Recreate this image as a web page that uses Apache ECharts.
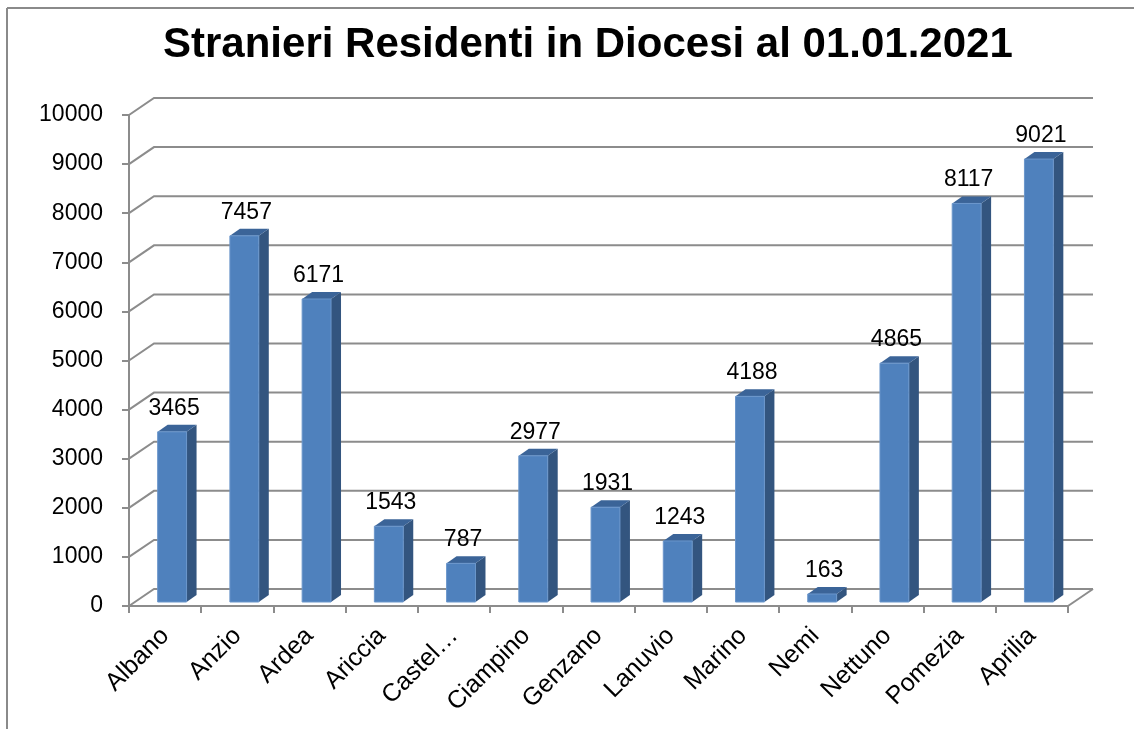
<!DOCTYPE html>
<html>
<head>
<meta charset="utf-8" />
<title>Stranieri Residenti in Diocesi</title>
<style>html,body{margin:0;padding:0;background:#fff}#chart{width:1134px;height:729px}</style>
<script src="https://cdn.jsdelivr.net/npm/echarts@6/dist/echarts.min.js"></script>
</head>
<body>
<div id="chart"></div>
<script>
(function () {
  // -------- data ----------
  const categories = ["Albano", "Anzio", "Ardea", "Ariccia", "Castel…", "Ciampino", "Genzano",
    "Lanuvio", "Marino", "Nemi", "Nettuno", "Pomezia", "Aprilia"];
  const values = [3465, 7457, 6171, 1543, 787, 2977, 1931, 1243, 4188, 163, 4865, 8117, 9021];
  const yTicks = [0, 1000, 2000, 3000, 4000, 5000, 6000, 7000, 8000, 9000, 10000];

  const FONT = "'Liberation Sans', Arial, sans-serif";
  const GRID_COLOR = "#8c8c8c";
  // profondità pseudo-3D (parete di fondo / barre)
  const WALL_DX = 25, WALL_DY = -17;
  const BAR_DX = 10, BAR_DY = -7, BAR_SHIFT = 7, BAR_LIFT = 4;

  const chart = echarts.init(document.getElementById("chart"), null, { renderer: "canvas" });

  // griglia sul fondo + pavimento
  function renderWall(params, api) {
    const cs = params.coordSys;
    const y = api.coord([0, api.value(1)])[1];
    const x0 = cs.x, x1 = cs.x + cs.width;
    const children = [{
      type: "polyline",
      shape: { points: [[x0, y], [x0 + WALL_DX, y + WALL_DY], [x1 + WALL_DX, y + WALL_DY]] },
      style: { stroke: GRID_COLOR, lineWidth: 2, fill: null },
    }];
    if (api.value(1) === 0) {
      children.push({
        type: "line",
        shape: { x1: x1, y1: y, x2: x1 + WALL_DX, y2: y + WALL_DY },
        style: { stroke: GRID_COLOR, lineWidth: 2 },
      });
    }
    return { type: "group", children };
  }

  // barre 3D: faccia frontale, lato, tetto + etichetta
  function renderBar(params, api) {
    const idx = api.value(0);
    const v = api.value(1);
    const cx = api.coord([idx, 0])[0];
    const base = api.coord([idx, 0])[1] - BAR_LIFT;
    const top = base - (api.coord([idx, 0])[1] - api.coord([idx, v])[1]);
    const bw = api.size([1, 0])[0] * 0.4;
    const x0 = cx - bw / 2 + BAR_SHIFT, x1 = x0 + bw;
    return {
      type: "group",
      children: [
        {
          type: "polygon",
          shape: { points: [[x1, base], [x1, top], [x1 + BAR_DX, top + BAR_DY], [x1 + BAR_DX, base + BAR_DY]] },
          style: { fill: "#33557f" },
        },
        {
          type: "polygon",
          shape: { points: [[x0, top], [x1, top], [x1 + BAR_DX, top + BAR_DY], [x0 + BAR_DX, top + BAR_DY]] },
          style: { fill: "#3b6498" },
        },
        {
          type: "rect",
          shape: { x: x0, y: top, width: bw, height: base - top },
          style: { fill: "#4f81bd", stroke: "#6b96cb", lineWidth: 1 },
        },
        {
          type: "text",
          x: x0 + bw / 2 + 2, y: top + BAR_DY - 5,
          style: {
            text: String(v), fill: "#000", font: "23px " + FONT,
            textAlign: "center", textVerticalAlign: "bottom",
          },
        },
      ],
    };
  }

  const option = {
    backgroundColor: "#fff",
    animation: false,
    graphic: [
      { type: "line", shape: { x1: 7, y1: 8, x2: 1134, y2: 8 }, style: { stroke: "#8a8a8a", lineWidth: 2 } },
      { type: "line", shape: { x1: 7, y1: 8, x2: 7, y2: 729 }, style: { stroke: "#8a8a8a", lineWidth: 2 } },
      {
        type: "text", left: 163, top: 24,
        style: { text: "Stranieri Residenti in Diocesi al 01.01.2021", fill: "#000", font: "bold 42px " + FONT },
      },
    ],
    grid: { left: 129, right: 66, top: 115, bottom: 123, containLabel: false },
    xAxis: {
      type: "category",
      data: categories,
      axisLine: { lineStyle: { color: GRID_COLOR, width: 2 } },
      axisTick: { show: true, interval: 0, length: 7, lineStyle: { color: GRID_COLOR, width: 2 } },
      axisLabel: { interval: 0, rotate: 45, margin: 26, color: "#000", fontSize: 25, fontFamily: FONT },
      splitLine: { show: false },
    },
    yAxis: {
      type: "value",
      min: 0, max: 10000, interval: 1000,
      axisLine: { show: true, lineStyle: { color: GRID_COLOR, width: 2 } },
      axisTick: { show: true, length: 7, lineStyle: { color: GRID_COLOR, width: 2 } },
      axisLabel: { margin: 26, color: "#000", fontSize: 23, fontFamily: FONT, formatter: (v) => String(v) },
      splitLine: { show: false },
    },
    series: [
      {
        type: "custom",
        renderItem: renderWall,
        data: yTicks.map((t) => [0, t]),
        encode: { x: 0, y: 1 },
        clip: false,
        silent: true,
        z: 1,
      },
      {
        type: "custom",
        renderItem: renderBar,
        data: values.map((v, i) => [i, v]),
        encode: { x: 0, y: 1 },
        clip: false,
        z: 3,
      },
    ],
  };

  chart.setOption(option);
})();
</script>
</body>
</html>
